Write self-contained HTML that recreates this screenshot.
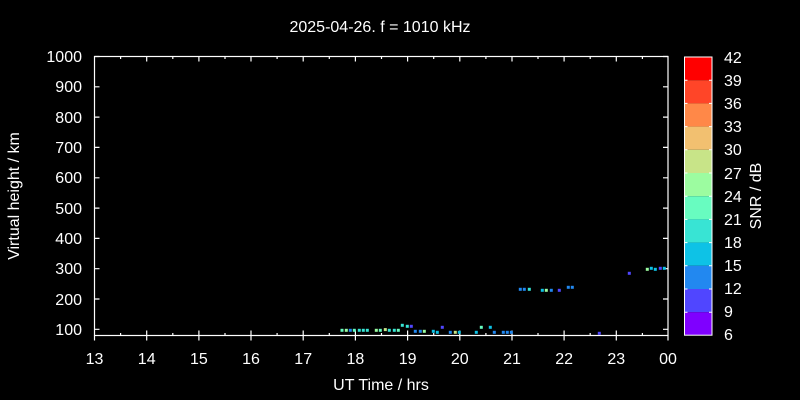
<!DOCTYPE html>
<html><head><style>html,body{margin:0;background:#000;}svg{display:block}</style></head>
<body>
<svg width="800" height="400" xmlns="http://www.w3.org/2000/svg" font-family="Liberation Sans, sans-serif" fill="#fff">
<rect width="800" height="400" fill="#000"/>
<text x="380" y="32" font-size="16" text-anchor="middle">2025-04-26. f = 1010 kHz</text>
<g stroke="#fff" stroke-width="1.2" fill="none">
<rect x="94.5" y="56.5" width="573.5" height="279"/>
<path d="
M94.5,56.5h5M94.5,86.8h5M94.5,117.1h5M94.5,147.4h5M94.5,177.8h5M94.5,208.1h5M94.5,238.4h5M94.5,268.7h5M94.5,299h5M94.5,329.3h5
M668,56.5h-5M668,86.8h-5M668,117.1h-5M668,147.4h-5M668,177.8h-5M668,208.1h-5M668,238.4h-5M668,268.7h-5M668,299h-5M668,329.3h-5
M146.7,335.5v-5M198.9,335.5v-5M251,335.5v-5M303.2,335.5v-5M355.4,335.5v-5M407.6,335.5v-5M459.8,335.5v-5M512,335.5v-5M564.1,335.5v-5M616.3,335.5v-5
M146.7,56.5v5M198.9,56.5v5M251,56.5v5M303.2,56.5v5M355.4,56.5v5M407.6,56.5v5M459.8,56.5v5M512,56.5v5M564.1,56.5v5M616.3,56.5v5
M120.6,335.5v-2.5M172.8,335.5v-2.5M225,335.5v-2.5M277.1,335.5v-2.5M329.3,335.5v-2.5M381.5,335.5v-2.5M433.7,335.5v-2.5M485.9,335.5v-2.5M538,335.5v-2.5M590.2,335.5v-2.5M642.4,335.5v-2.5
M120.6,56.5v2.5M172.8,56.5v2.5M225,56.5v2.5M277.1,56.5v2.5M329.3,56.5v2.5M381.5,56.5v2.5M433.7,56.5v2.5M485.9,56.5v2.5M538,56.5v2.5M590.2,56.5v2.5M642.4,56.5v2.5
M94.5,335.5v5M146.7,335.5v5M198.9,335.5v5M251,335.5v5M303.2,335.5v5M355.4,335.5v5M407.6,335.5v5M459.8,335.5v5M512,335.5v5M564.1,335.5v5M616.3,335.5v5M668,335.5v5"/>
</g>
<g font-size="16" text-anchor="end">
<text x="82" y="62">1000</text><text x="82" y="92">900</text><text x="82" y="123">800</text><text x="82" y="153">700</text><text x="82" y="183">600</text><text x="82" y="214">500</text><text x="82" y="244">400</text><text x="82" y="274">300</text><text x="82" y="305">200</text><text x="82" y="335">100</text>
</g>
<g font-size="16" text-anchor="middle">
<text x="94.5" y="364">13</text><text x="146.7" y="364">14</text><text x="198.9" y="364">15</text><text x="251" y="364">16</text><text x="303.2" y="364">17</text><text x="355.4" y="364">18</text><text x="407.6" y="364">19</text><text x="459.8" y="364">20</text><text x="512" y="364">21</text><text x="564.1" y="364">22</text><text x="616.3" y="364">23</text><text x="668" y="364">00</text>
<text x="381" y="390">UT Time / hrs</text>
<text transform="translate(19,196) rotate(-90)">Virtual height / km</text>
<text transform="translate(761,196) rotate(-90)">SNR / dB</text>
</g>
<g>
<rect x="684.5" y="57" width="27.5" height="23.2" fill="#ff0000"/>
<rect x="684.5" y="80.2" width="27.5" height="23.2" fill="#ff4528"/>
<rect x="684.5" y="103.4" width="27.5" height="23.2" fill="#ff8848"/>
<rect x="684.5" y="126.6" width="27.5" height="23.2" fill="#f2c070"/>
<rect x="684.5" y="149.8" width="27.5" height="23.2" fill="#c8e488"/>
<rect x="684.5" y="173" width="27.5" height="23.2" fill="#9cfca0"/>
<rect x="684.5" y="196.2" width="27.5" height="23.2" fill="#68fcc0"/>
<rect x="684.5" y="219.4" width="27.5" height="23.2" fill="#38e4d4"/>
<rect x="684.5" y="242.6" width="27.5" height="23.2" fill="#0ec2e6"/>
<rect x="684.5" y="265.8" width="27.5" height="23.2" fill="#2288f0"/>
<rect x="684.5" y="289" width="27.5" height="23.2" fill="#5046ff"/>
<rect x="684.5" y="312.2" width="27.5" height="23" fill="#7f00ff"/>
<rect x="684.5" y="57" width="27.5" height="278.2" fill="none" stroke="#fff" stroke-width="1"/>
<path stroke="#fff" stroke-width="1" d="M684.5,80.2h3M684.5,103.4h3M684.5,126.6h3M684.5,149.8h3M684.5,173h3M684.5,196.2h3M684.5,219.4h3M684.5,242.6h3M684.5,265.8h3M684.5,289h3M684.5,312.2h3M712,80.2h-3M712,103.4h-3M712,126.6h-3M712,149.8h-3M712,173h-3M712,196.2h-3M712,219.4h-3M712,242.6h-3M712,265.8h-3M712,289h-3M712,312.2h-3"/>
</g>
<g font-size="16">
<text x="724" y="63">42</text><text x="724" y="86">39</text><text x="724" y="109">36</text><text x="724" y="132">33</text><text x="724" y="155">30</text><text x="724" y="179">27</text><text x="724" y="202">24</text><text x="724" y="225">21</text><text x="724" y="248">18</text><text x="724" y="271">15</text><text x="724" y="294">12</text><text x="724" y="317">9</text><text x="724" y="340">6</text>
</g>
<g transform="translate(0.5,0.5)">
<rect x="340" y="328.3" width="3" height="3" fill="#68fcc0"/>
<rect x="344.3" y="328.3" width="3" height="3" fill="#9cfca0"/>
<rect x="348.3" y="328.3" width="3" height="3" fill="#2288f0"/>
<rect x="352.3" y="328.3" width="3" height="3" fill="#68fcc0"/>
<rect x="357.3" y="328.3" width="3" height="3" fill="#38e4d4"/>
<rect x="361.3" y="328.3" width="3" height="3" fill="#38e4d4"/>
<rect x="365.3" y="328.3" width="3" height="3" fill="#38e4d4"/>
<rect x="374.3" y="328.3" width="3" height="3" fill="#9cfca0"/>
<rect x="378.3" y="328.3" width="3" height="3" fill="#68fcc0"/>
<rect x="383.3" y="327.6" width="3" height="3" fill="#c8e488"/>
<rect x="387.3" y="328.3" width="3" height="3" fill="#38e4d4"/>
<rect x="392.3" y="328.3" width="3" height="3" fill="#38e4d4"/>
<rect x="396.3" y="328.3" width="3" height="3" fill="#68fcc0"/>
<rect x="400.3" y="323.3" width="3" height="3" fill="#38e4d4"/>
<rect x="405.3" y="324.3" width="3" height="3" fill="#38e4d4"/>
<rect x="409.3" y="324.3" width="3" height="3" fill="#5046ff"/>
<rect x="413.3" y="329.3" width="3" height="3" fill="#2288f0"/>
<rect x="418.3" y="329.3" width="3" height="3" fill="#2288f0"/>
<rect x="422.3" y="329.3" width="3" height="3" fill="#9cfca0"/>
<rect x="431.3" y="329.3" width="3" height="3" fill="#0ec2e6"/>
<rect x="435.3" y="330.3" width="3" height="3" fill="#0ec2e6"/>
<rect x="440.3" y="325.3" width="3" height="3" fill="#5046ff"/>
<rect x="448.3" y="330.3" width="3" height="3" fill="#2288f0"/>
<rect x="453.3" y="330.3" width="3" height="3" fill="#c8e488"/>
<rect x="457.3" y="330.3" width="3" height="3" fill="#0ec2e6"/>
<rect x="474.3" y="330.3" width="3" height="3" fill="#0ec2e6"/>
<rect x="479.3" y="325.3" width="3" height="3" fill="#68fcc0"/>
<rect x="488.3" y="325.3" width="3" height="3" fill="#0ec2e6"/>
<rect x="492.3" y="330.3" width="3" height="3" fill="#2288f0"/>
<rect x="501.3" y="330.3" width="3" height="3" fill="#2288f0"/>
<rect x="505.3" y="330.3" width="3" height="3" fill="#2288f0"/>
<rect x="509.3" y="330.3" width="3" height="3" fill="#2288f0"/>
<rect x="597.3" y="331.3" width="3" height="3" fill="#5046ff"/>
<rect x="518.3" y="287.3" width="3" height="3" fill="#2288f0"/>
<rect x="522.3" y="287.3" width="3" height="3" fill="#2288f0"/>
<rect x="527.3" y="287.3" width="3" height="3" fill="#38e4d4"/>
<rect x="540.3" y="288.3" width="3" height="3" fill="#0ec2e6"/>
<rect x="544.3" y="288.3" width="3" height="3" fill="#9cfca0"/>
<rect x="549.3" y="288.3" width="3" height="3" fill="#2288f0"/>
<rect x="557.3" y="288.3" width="3" height="3" fill="#5046ff"/>
<rect x="566.3" y="285.3" width="3" height="3" fill="#2288f0"/>
<rect x="570.3" y="285.3" width="3" height="3" fill="#2288f0"/>
<rect x="627.3" y="271.3" width="3" height="3" fill="#5046ff"/>
<rect x="645.3" y="267.3" width="3" height="3" fill="#9cfca0"/>
<rect x="649.3" y="266.3" width="3" height="3" fill="#0ec2e6"/>
<rect x="653.3" y="267.3" width="3" height="3" fill="#0ec2e6"/>
<rect x="658.3" y="266.3" width="3" height="3" fill="#5046ff"/>
<rect x="662.3" y="266.3" width="3" height="3" fill="#0ec2e6"/>
</g>
</svg>
</body></html>
